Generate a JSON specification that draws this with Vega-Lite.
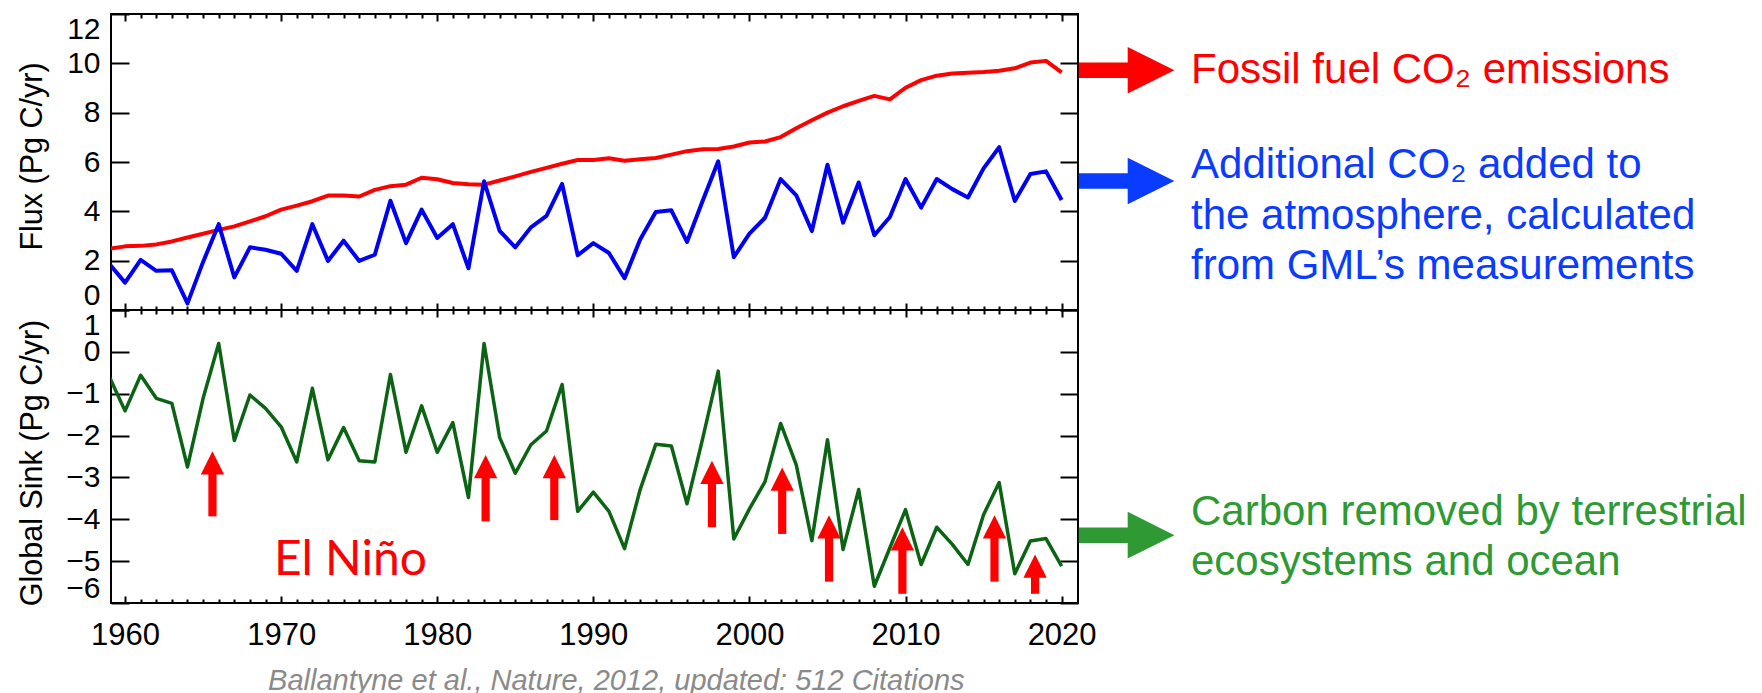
{
  "$schema": "https://vega.github.io/schema/vega-lite/v6.json",
  "padding": {"left": 15, "top": 12, "right": 2, "bottom": 2},
  "background": "white",
  "spacing": 0,
  "bounds": "flush",
  "config": {
    "font": "Liberation Sans",
    "view": {"stroke": "#000000", "strokeWidth": 2},
    "axis": {"domain": false, "grid": false, "tickColor": "#000000", "tickWidth": 2, "labelColor": "#000000", "labelFont": "Liberation Sans", "titleFont": "Liberation Sans", "titleColor": "#000000", "titleFontWeight": "normal", "labelOverlap": false, "labelFlush": false}
  },
  "datasets": {
    "flux": [
      {"year":1959,"series":"fossil","value":2.48},{"year":1960,"series":"fossil","value":2.58},{"year":1961,"series":"fossil","value":2.6},{"year":1962,"series":"fossil","value":2.66},{"year":1963,"series":"fossil","value":2.78},{"year":1964,"series":"fossil","value":2.94},{"year":1965,"series":"fossil","value":3.09},{"year":1966,"series":"fossil","value":3.25},{"year":1967,"series":"fossil","value":3.39},{"year":1968,"series":"fossil","value":3.59},{"year":1969,"series":"fossil","value":3.8},{"year":1970,"series":"fossil","value":4.07},{"year":1971,"series":"fossil","value":4.23},{"year":1972,"series":"fossil","value":4.41},{"year":1973,"series":"fossil","value":4.64},{"year":1974,"series":"fossil","value":4.64},{"year":1975,"series":"fossil","value":4.6},{"year":1976,"series":"fossil","value":4.87},{"year":1977,"series":"fossil","value":5.02},{"year":1978,"series":"fossil","value":5.08},{"year":1979,"series":"fossil","value":5.36},{"year":1980,"series":"fossil","value":5.3},{"year":1981,"series":"fossil","value":5.15},{"year":1982,"series":"fossil","value":5.1},{"year":1983,"series":"fossil","value":5.08},{"year":1984,"series":"fossil","value":5.25},{"year":1985,"series":"fossil","value":5.42},{"year":1986,"series":"fossil","value":5.6},{"year":1987,"series":"fossil","value":5.76},{"year":1988,"series":"fossil","value":5.93},{"year":1989,"series":"fossil","value":6.08},{"year":1990,"series":"fossil","value":6.08},{"year":1991,"series":"fossil","value":6.15},{"year":1992,"series":"fossil","value":6.05},{"year":1993,"series":"fossil","value":6.11},{"year":1994,"series":"fossil","value":6.16},{"year":1995,"series":"fossil","value":6.3},{"year":1996,"series":"fossil","value":6.44},{"year":1997,"series":"fossil","value":6.52},{"year":1998,"series":"fossil","value":6.53},{"year":1999,"series":"fossil","value":6.63},{"year":2000,"series":"fossil","value":6.79},{"year":2001,"series":"fossil","value":6.83},{"year":2002,"series":"fossil","value":7.01},{"year":2003,"series":"fossil","value":7.37},{"year":2004,"series":"fossil","value":7.69},{"year":2005,"series":"fossil","value":8.0},{"year":2006,"series":"fossil","value":8.26},{"year":2007,"series":"fossil","value":8.48},{"year":2008,"series":"fossil","value":8.68},{"year":2009,"series":"fossil","value":8.54},{"year":2010,"series":"fossil","value":9.01},{"year":2011,"series":"fossil","value":9.32},{"year":2012,"series":"fossil","value":9.5},{"year":2013,"series":"fossil","value":9.59},{"year":2014,"series":"fossil","value":9.62},{"year":2015,"series":"fossil","value":9.65},{"year":2016,"series":"fossil","value":9.7},{"year":2017,"series":"fossil","value":9.8},{"year":2018,"series":"fossil","value":10.03},{"year":2019,"series":"fossil","value":10.1},{"year":2020,"series":"fossil","value":9.63},
      {"year":1959,"series":"atm","value":1.86},{"year":1960,"series":"atm","value":1.11},{"year":1961,"series":"atm","value":2.03},{"year":1962,"series":"atm","value":1.59},{"year":1963,"series":"atm","value":1.61},{"year":1964,"series":"atm","value":0.27},{"year":1965,"series":"atm","value":1.95},{"year":1966,"series":"atm","value":3.48},{"year":1967,"series":"atm","value":1.32},{"year":1968,"series":"atm","value":2.54},{"year":1969,"series":"atm","value":2.44},{"year":1970,"series":"atm","value":2.28},{"year":1971,"series":"atm","value":1.59},{"year":1972,"series":"atm","value":3.48},{"year":1973,"series":"atm","value":1.99},{"year":1974,"series":"atm","value":2.81},{"year":1975,"series":"atm","value":1.99},{"year":1976,"series":"atm","value":2.24},{"year":1977,"series":"atm","value":4.43},{"year":1978,"series":"atm","value":2.71},{"year":1979,"series":"atm","value":4.07},{"year":1980,"series":"atm","value":2.92},{"year":1981,"series":"atm","value":3.48},{"year":1982,"series":"atm","value":1.69},{"year":1983,"series":"atm","value":5.22},{"year":1984,"series":"atm","value":3.21},{"year":1985,"series":"atm","value":2.54},{"year":1986,"series":"atm","value":3.35},{"year":1987,"series":"atm","value":3.82},{"year":1988,"series":"atm","value":5.11},{"year":1989,"series":"atm","value":2.22},{"year":1990,"series":"atm","value":2.71},{"year":1991,"series":"atm","value":2.31},{"year":1992,"series":"atm","value":1.29},{"year":1993,"series":"atm","value":2.86},{"year":1994,"series":"atm","value":3.97},{"year":1995,"series":"atm","value":4.04},{"year":1996,"series":"atm","value":2.76},{"year":1997,"series":"atm","value":4.42},{"year":1998,"series":"atm","value":6.03},{"year":1999,"series":"atm","value":2.14},{"year":2000,"series":"atm","value":3.1},{"year":2001,"series":"atm","value":3.74},{"year":2002,"series":"atm","value":5.31},{"year":2003,"series":"atm","value":4.65},{"year":2004,"series":"atm","value":3.2},{"year":2005,"series":"atm","value":5.89},{"year":2006,"series":"atm","value":3.54},{"year":2007,"series":"atm","value":5.17},{"year":2008,"series":"atm","value":3.03},{"year":2009,"series":"atm","value":3.77},{"year":2010,"series":"atm","value":5.31},{"year":2011,"series":"atm","value":4.15},{"year":2012,"series":"atm","value":5.31},{"year":2013,"series":"atm","value":4.9},{"year":2014,"series":"atm","value":4.56},{"year":2015,"series":"atm","value":5.74},{"year":2016,"series":"atm","value":6.6},{"year":2017,"series":"atm","value":4.42},{"year":2018,"series":"atm","value":5.51},{"year":2019,"series":"atm","value":5.62},{"year":2020,"series":"atm","value":4.46}
    ],
    "sink": [
      {"year":1959,"sink":-0.6},{"year":1960,"sink":-1.41},{"year":1961,"sink":-0.56},{"year":1962,"sink":-1.11},{"year":1963,"sink":-1.23},{"year":1964,"sink":-2.75},{"year":1965,"sink":-1.11},{"year":1966,"sink":0.2},{"year":1967,"sink":-2.12},{"year":1968,"sink":-1.03},{"year":1969,"sink":-1.35},{"year":1970,"sink":-1.79},{"year":1971,"sink":-2.63},{"year":1972,"sink":-0.87},{"year":1973,"sink":-2.58},{"year":1974,"sink":-1.81},{"year":1975,"sink":-2.6},{"year":1976,"sink":-2.63},{"year":1977,"sink":-0.54},{"year":1978,"sink":-2.4},{"year":1979,"sink":-1.29},{"year":1980,"sink":-2.4},{"year":1981,"sink":-1.69},{"year":1982,"sink":-3.48},{"year":1983,"sink":0.2},{"year":1984,"sink":-2.05},{"year":1985,"sink":-2.9},{"year":1986,"sink":-2.22},{"year":1987,"sink":-1.89},{"year":1988,"sink":-0.78},{"year":1989,"sink":-3.81},{"year":1990,"sink":-3.35},{"year":1991,"sink":-3.81},{"year":1992,"sink":-4.7},{"year":1993,"sink":-3.29},{"year":1994,"sink":-2.21},{"year":1995,"sink":-2.25},{"year":1996,"sink":-3.63},{"year":1997,"sink":-2.08},{"year":1998,"sink":-0.46},{"year":1999,"sink":-4.47},{"year":2000,"sink":-3.75},{"year":2001,"sink":-3.1},{"year":2002,"sink":-1.71},{"year":2003,"sink":-2.7},{"year":2004,"sink":-4.51},{"year":2005,"sink":-2.1},{"year":2006,"sink":-4.72},{"year":2007,"sink":-3.29},{"year":2008,"sink":-5.6},{"year":2009,"sink":-4.68},{"year":2010,"sink":-3.77},{"year":2011,"sink":-5.08},{"year":2012,"sink":-4.19},{"year":2013,"sink":-4.6},{"year":2014,"sink":-5.08},{"year":2015,"sink":-3.89},{"year":2016,"sink":-3.12},{"year":2017,"sink":-5.3},{"year":2018,"sink":-4.52},{"year":2019,"sink":-4.46},{"year":2020,"sink":-5.12}
    ],
    "fluxArrows": [
      {"group":"fossil","from":2021.1,"to":2024.8,"head":2025.73,"level":9.72},
      {"group":"atm","from":2021.1,"to":2024.8,"head":2025.73,"level":5.23}
    ],
    "fluxNotes": [
      {"group":"fossil","x":2028.29,"y":9.21,"text":"Fossil fuel CO₂ emissions"},
      {"group":"atm","x":2028.29,"y":5.37,"text":"Additional CO₂ added to"},
      {"group":"atm","x":2028.29,"y":3.3,"text":"the atmosphere, calculated"},
      {"group":"atm","x":2028.29,"y":1.27,"text":"from GML’s measurements"}
    ],
    "sinkArrow": [
      {"from":2021.1,"to":2024.8,"head":2025.73,"level":-4.38}
    ],
    "sinkNotes": [
      {"x":2028.29,"y":-4.13,"text":"Carbon removed by terrestrial"},
      {"x":2028.29,"y":-5.32,"text":"ecosystems and ocean"}
    ],
    "ninoArrows": [
      {"year":1965.6,"tail":-3.93,"head":-2.65},
      {"year":1983.1,"tail":-4.05,"head":-2.74},
      {"year":1987.5,"tail":-4.02,"head":-2.74},
      {"year":1997.6,"tail":-4.19,"head":-2.88},
      {"year":2002.1,"tail":-4.35,"head":-3.04},
      {"year":2005.1,"tail":-5.49,"head":-4.18},
      {"year":2009.8,"tail":-5.78,"head":-4.47},
      {"year":2015.7,"tail":-5.49,"head":-4.18},
      {"year":2018.3,"tail":-5.78,"head":-5.12}
    ],
    "ninoLabel": [{"x":1974.44,"y":-5.34,"text":"El Niño"}],
    "citation": [{"x":1991.47,"y":-8.07,"text":"Ballantyne et al., Nature, 2012, updated: 512 Citations"}]
  },
  "vconcat": [
    {
      "width": 967,
      "height": 296,
      "resolve": {"axis": {"x": "independent", "y": "independent"}, "scale": {"color": "independent"}},
      "layer": [
        {
          "data": {"name": "flux"},
          "mark": {"type": "line", "strokeWidth": 4, "clip": true, "strokeJoin": "round"},
          "encoding": {
            "x": {"field": "year", "type": "quantitative", "scale": {"domain": [1959.1, 2021.05], "nice": false, "zero": false},
              "axis": {"orient": "bottom", "values": [1960,1961,1962,1963,1964,1965,1966,1967,1968,1969,1970,1971,1972,1973,1974,1975,1976,1977,1978,1979,1980,1981,1982,1983,1984,1985,1986,1987,1988,1989,1990,1991,1992,1993,1994,1995,1996,1997,1998,1999,2000,2001,2002,2003,2004,2005,2006,2007,2008,2009,2010,2011,2012,2013,2014,2015,2016,2017,2018,2019,2020], "labels": false, "title": null, "tickSize": {"condition": {"test": "datum.value % 10 === 0", "value": -7}, "value": -4}}},
            "y": {"field": "value", "type": "quantitative", "scale": {"domain": [0, 12], "nice": false, "zero": false},
              "axis": {"orient": "left", "values": [0,2,4,6,8,10,12], "tickSize": -18, "labelFontSize": 30, "labelPadding": 29, "labelFlush": true, "title": "Flux (Pg C/yr)", "titleFontSize": 30.5, "titleX": -64, "titleY": 142, "titleAngle": -90, "titleAlign": "center", "titleBaseline": "bottom"}},
            "color": {"field": "series", "type": "nominal", "scale": {"domain": ["fossil", "atm"], "range": ["#ff0000", "#0000f5"]}, "legend": null}
          }
        },
        {
          "data": {"name": "flux"},
          "mark": {"type": "point", "opacity": 0},
          "encoding": {
            "x": {"field": "year", "type": "quantitative", "scale": {"domain": [1959.1, 2021.05], "nice": false, "zero": false},
              "axis": {"orient": "top", "values": [1960,1961,1962,1963,1964,1965,1966,1967,1968,1969,1970,1971,1972,1973,1974,1975,1976,1977,1978,1979,1980,1981,1982,1983,1984,1985,1986,1987,1988,1989,1990,1991,1992,1993,1994,1995,1996,1997,1998,1999,2000,2001,2002,2003,2004,2005,2006,2007,2008,2009,2010,2011,2012,2013,2014,2015,2016,2017,2018,2019,2020], "labels": false, "title": null, "tickSize": {"condition": {"test": "datum.value % 10 === 0", "value": -7}, "value": -4}}},
            "y": {"field": "value", "type": "quantitative", "scale": {"domain": [0, 12], "nice": false, "zero": false},
              "axis": {"orient": "right", "values": [0,2,4,6,8,10,12], "tickSize": -18, "labels": false, "title": null}}
          }
        },
        {
          "data": {"name": "fluxArrows"},
          "mark": {"type": "rule", "strokeWidth": 15.6, "strokeCap": "butt"},
          "encoding": {
            "x": {"field": "from", "type": "quantitative", "scale": {"domain": [1959.1, 2021.05], "nice": false, "zero": false}, "axis": null},
            "x2": {"field": "to"},
            "y": {"field": "level", "type": "quantitative", "scale": {"domain": [0, 12], "nice": false, "zero": false}, "axis": null},
            "color": {"field": "group", "type": "nominal", "scale": {"domain": ["fossil", "atm"], "range": ["#ff0000", "#0a3cff"]}, "legend": null}
          }
        },
        {
          "data": {"name": "fluxArrows"},
          "mark": {"type": "point", "shape": "M1,0L-1,-1L-1,1Z", "filled": true, "size": 2180, "opacity": 1, "strokeWidth": 0},
          "encoding": {
            "x": {"field": "head", "type": "quantitative", "scale": {"domain": [1959.1, 2021.05], "nice": false, "zero": false}, "axis": null},
            "y": {"field": "level", "type": "quantitative", "scale": {"domain": [0, 12], "nice": false, "zero": false}, "axis": null},
            "color": {"field": "group", "type": "nominal", "scale": {"domain": ["fossil", "atm"], "range": ["#ff0000", "#0a3cff"]}, "legend": null}
          }
        },
        {
          "data": {"name": "fluxNotes"},
          "mark": {"type": "text", "align": "left", "baseline": "alphabetic", "fontSize": 42, "font": "Liberation Sans"},
          "encoding": {
            "x": {"field": "x", "type": "quantitative", "scale": {"domain": [1959.1, 2021.05], "nice": false, "zero": false}, "axis": null},
            "y": {"field": "y", "type": "quantitative", "scale": {"domain": [0, 12], "nice": false, "zero": false}, "axis": null},
            "text": {"field": "text"},
            "color": {"field": "group", "type": "nominal", "scale": {"domain": ["fossil", "atm"], "range": ["#ff0000", "#0a3cff"]}, "legend": null}
          }
        }
      ]
    },
    {
      "width": 967,
      "height": 293,
      "resolve": {"axis": {"x": "independent", "y": "independent"}},
      "layer": [
        {
          "data": {"name": "sink"},
          "mark": {"type": "line", "strokeWidth": 3.5, "clip": true, "strokeJoin": "round", "color": "#0b6413"},
          "encoding": {
            "x": {"field": "year", "type": "quantitative", "scale": {"domain": [1959.1, 2021.05], "nice": false, "zero": false},
              "axis": {"orient": "bottom", "values": [1960,1961,1962,1963,1964,1965,1966,1967,1968,1969,1970,1971,1972,1973,1974,1975,1976,1977,1978,1979,1980,1981,1982,1983,1984,1985,1986,1987,1988,1989,1990,1991,1992,1993,1994,1995,1996,1997,1998,1999,2000,2001,2002,2003,2004,2005,2006,2007,2008,2009,2010,2011,2012,2013,2014,2015,2016,2017,2018,2019,2020], "format": "d", "labelExpr": "datum.value % 10 === 0 ? datum.label : ''", "labelFontSize": 31, "labelPadding": 24, "title": null, "tickSize": {"condition": {"test": "datum.value % 10 === 0", "value": -7}, "value": -4}}},
            "y": {"field": "sink", "type": "quantitative", "scale": {"domain": [-6, 1], "nice": false, "zero": false},
              "axis": {"orient": "left", "values": [-6,-5,-4,-3,-2,-1,0,1], "tickSize": -18, "labelFontSize": 30, "labelPadding": 29, "labelFlush": true, "title": "Global Sink (Pg C/yr)", "titleFontSize": 30.5, "titleX": -64, "titleY": 152.5, "titleAngle": -90, "titleAlign": "center", "titleBaseline": "bottom"}}
          }
        },
        {
          "data": {"name": "sink"},
          "mark": {"type": "point", "opacity": 0},
          "encoding": {
            "x": {"field": "year", "type": "quantitative", "scale": {"domain": [1959.1, 2021.05], "nice": false, "zero": false},
              "axis": {"orient": "top", "values": [1960,1961,1962,1963,1964,1965,1966,1967,1968,1969,1970,1971,1972,1973,1974,1975,1976,1977,1978,1979,1980,1981,1982,1983,1984,1985,1986,1987,1988,1989,1990,1991,1992,1993,1994,1995,1996,1997,1998,1999,2000,2001,2002,2003,2004,2005,2006,2007,2008,2009,2010,2011,2012,2013,2014,2015,2016,2017,2018,2019,2020], "labels": false, "title": null, "tickSize": {"condition": {"test": "datum.value % 10 === 0", "value": -7}, "value": -4}}},
            "y": {"field": "sink", "type": "quantitative", "scale": {"domain": [-6, 1], "nice": false, "zero": false},
              "axis": {"orient": "right", "values": [-6,-5,-4,-3,-2,-1,0,1], "tickSize": -18, "labels": false, "title": null}}
          }
        },
        {
          "data": {"name": "ninoArrows"},
          "mark": {"type": "rule", "strokeWidth": 8.2, "strokeCap": "butt", "color": "#ff0000"},
          "encoding": {
            "x": {"field": "year", "type": "quantitative", "scale": {"domain": [1959.1, 2021.05], "nice": false, "zero": false}, "axis": null},
            "y": {"field": "tail", "type": "quantitative", "scale": {"domain": [-6, 1], "nice": false, "zero": false}, "axis": null},
            "y2": {"field": "head"}
          }
        },
        {
          "data": {"name": "ninoArrows"},
          "mark": {"type": "point", "shape": "M0,-1L1,1L-1,1Z", "filled": true, "size": 543, "opacity": 1, "strokeWidth": 0, "color": "#ff0000"},
          "encoding": {
            "x": {"field": "year", "type": "quantitative", "scale": {"domain": [1959.1, 2021.05], "nice": false, "zero": false}, "axis": null},
            "y": {"field": "head", "type": "quantitative", "scale": {"domain": [-6, 1], "nice": false, "zero": false}, "axis": null}
          }
        },
        {
          "data": {"name": "sinkArrow"},
          "mark": {"type": "rule", "strokeWidth": 15.6, "strokeCap": "butt", "color": "#2f9a34"},
          "encoding": {
            "x": {"field": "from", "type": "quantitative", "scale": {"domain": [1959.1, 2021.05], "nice": false, "zero": false}, "axis": null},
            "x2": {"field": "to"},
            "y": {"field": "level", "type": "quantitative", "scale": {"domain": [-6, 1], "nice": false, "zero": false}, "axis": null}
          }
        },
        {
          "data": {"name": "sinkArrow"},
          "mark": {"type": "point", "shape": "M1,0L-1,-1L-1,1Z", "filled": true, "size": 2180, "opacity": 1, "strokeWidth": 0, "color": "#2f9a34"},
          "encoding": {
            "x": {"field": "head", "type": "quantitative", "scale": {"domain": [1959.1, 2021.05], "nice": false, "zero": false}, "axis": null},
            "y": {"field": "level", "type": "quantitative", "scale": {"domain": [-6, 1], "nice": false, "zero": false}, "axis": null}
          }
        },
        {
          "data": {"name": "sinkNotes"},
          "mark": {"type": "text", "align": "left", "baseline": "alphabetic", "fontSize": 42, "font": "Liberation Sans", "color": "#2f9a34"},
          "encoding": {
            "x": {"field": "x", "type": "quantitative", "scale": {"domain": [1959.1, 2021.05], "nice": false, "zero": false}, "axis": null},
            "y": {"field": "y", "type": "quantitative", "scale": {"domain": [-6, 1], "nice": false, "zero": false}, "axis": null},
            "text": {"field": "text"}
          }
        },
        {
          "data": {"name": "ninoLabel"},
          "mark": {"type": "text", "align": "center", "baseline": "alphabetic", "fontSize": 48, "font": "Lato", "color": "#ff0000"},
          "encoding": {
            "x": {"field": "x", "type": "quantitative", "scale": {"domain": [1959.1, 2021.05], "nice": false, "zero": false}, "axis": null},
            "y": {"field": "y", "type": "quantitative", "scale": {"domain": [-6, 1], "nice": false, "zero": false}, "axis": null},
            "text": {"field": "text"}
          }
        },
        {
          "data": {"name": "citation"},
          "mark": {"type": "text", "align": "center", "baseline": "alphabetic", "fontSize": 29, "font": "Liberation Sans", "fontStyle": "italic", "color": "#8a8a8a"},
          "encoding": {
            "x": {"field": "x", "type": "quantitative", "scale": {"domain": [1959.1, 2021.05], "nice": false, "zero": false}, "axis": null},
            "y": {"field": "y", "type": "quantitative", "scale": {"domain": [-6, 1], "nice": false, "zero": false}, "axis": null},
            "text": {"field": "text"}
          }
        }
      ]
    }
  ]
}
